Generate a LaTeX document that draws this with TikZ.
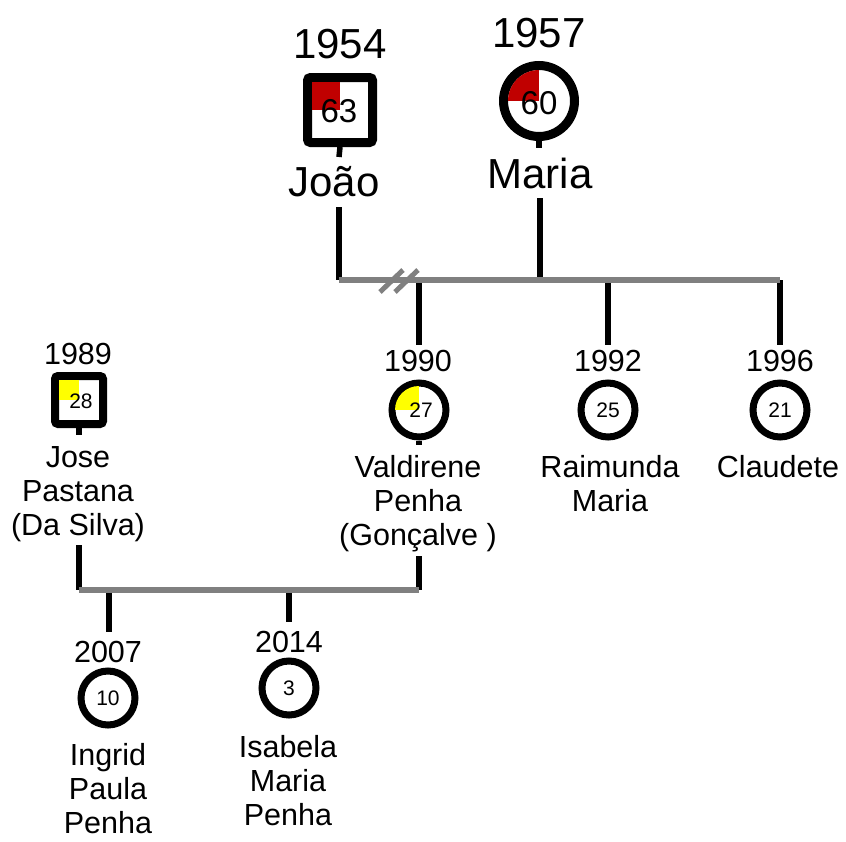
\documentclass[tikz,border=0pt]{standalone}
\usepackage{fontspec}
\setmainfont{Liberation Sans}
\definecolor{linegray}{RGB}{128,128,128}
\definecolor{agered}{RGB}{192,0,0}
\definecolor{ageyellow}{RGB}{255,255,0}
\tikzset{
  big/.style={font=\fontsize{42}{48}\selectfont, inner sep=0pt, anchor=base},
  small/.style={font=\fontsize{30.5}{34}\selectfont, inner sep=0pt, anchor=base},
  namebox/.style={font=\fontsize{30.5}{34}\selectfont, inner sep=0pt, anchor=north, align=center},
  bignum/.style={font=\fontsize{33}{36}\selectfont, inner sep=0pt},
  smallnum/.style={font=\fontsize{21}{24}\selectfont, inner sep=0pt},
  sqbig/.style={draw, line width=9pt, minimum size=65pt, inner sep=0pt, rounded corners=3pt, fill=white},
  sqsmall/.style={draw, line width=8pt, minimum size=48pt, inner sep=0pt, rounded corners=3pt, fill=white},
  circbig/.style={draw, circle, line width=9pt, minimum size=71pt, inner sep=0pt, fill=white},
  circsmall/.style={draw, circle, line width=7pt, minimum size=54pt, inner sep=0pt, fill=white},
  blk/.style={line width=5.5pt, black},
  gry/.style={line width=6pt, linegray},
  slash/.style={line width=5pt, linegray},
}
\begin{document}
\begin{tikzpicture}[x=1pt,y=-1pt]
\useasboundingbox (0,0) rectangle (846,841);

% ---------- parents ----------
\node[big] (y1954) at (340,58) {1954};
\node[sqbig] (joao) at (340,110) {};
\fill[agered] (joao.center) rectangle ++(-28,-28);
\node[bignum] (n63) at (339,111) {63};
\node[big] (nJoao) at (334,196) {João};

\node[big] (y1957) at (539,47) {1957};
\node[circbig] (maria) at (539,101) {};
\begin{scope}
  \clip (maria.center) circle[radius=31];
  \fill[agered] (maria.center) rectangle ++(-32,-32);
\end{scope}
\node[bignum] (n60) at (539,103) {60};
\node[big] (nMaria) at (540,188) {Maria};

% ---------- children of João & Maria ----------
\node[small] (y1990) at (418,371) {1990};
\node[circsmall] (vald) at (419,410) {};
\begin{scope}
  \clip (vald.center) circle[radius=24];
  \fill[ageyellow] (vald.center) rectangle ++(-25,-25);
\end{scope}
\node[smallnum] (n27) at (421,410) {27};
\node[namebox] (nVald) at (418,455) {Valdirene\\Penha\\(Gonçalve )};

\node[small] (y1992) at (608,371) {1992};
\node[circsmall] (raim) at (608,410) {};
\node[smallnum] (n25) at (608,410) {25};
\node[namebox] (nRaim) at (610,455) {Raimunda\\Maria};

\node[small] (y1996) at (780,371) {1996};
\node[circsmall] (clau) at (780,410) {};
\node[smallnum] (n21) at (780,410) {21};
\node[namebox] (nClau) at (778,455) {Claudete};

% ---------- Jose ----------
\node[small] (y1989) at (78,364) {1989};
\node[sqsmall] (jose) at (79,400) {};
\fill[ageyellow] (jose.center) rectangle ++(-20,-20);
\node[smallnum] (n28) at (81,401) {28};
\node[namebox] (nJose) at (78,446) {Jose\\Pastana\\(Da Silva)};

% ---------- grandchildren ----------
\node[small] (y2007) at (108,662) {2007};
\node[circsmall] (ingr) at (108,698) {};
\node[smallnum] (n10) at (108,698) {10};
\node[namebox] (nIngr) at (108,743) {Ingrid\\Paula\\Penha};

\node[small] (y2014) at (289,652) {2014};
\node[circsmall] (isab) at (289,688) {};
\node[smallnum] (n3) at (289,688) {3};
\node[namebox] (nIsab) at (288,735) {Isabela\\Maria\\Penha};

% ---------- coordinates ----------
\coordinate (jStub) at (339,157);
\coordinate (jTop) at (339,207);
\coordinate (jBot) at (339,280);
\coordinate (mStub) at (539,148);
\coordinate (mTop) at (540,198);
\coordinate (mBot) at (540,280);
\coordinate (cRight) at (780,280);
\coordinate (vUp) at (419,280);
\coordinate (vDown) at (419,345);
\coordinate (rUp) at (608,280);
\coordinate (rDown) at (608,345);
\coordinate (cDown) at (780,345);
\coordinate (vStub) at (419,445);
\coordinate (vTop) at (419,556);
\coordinate (vBot) at (419,590);
\coordinate (joStub) at (79,435);
\coordinate (joTop) at (79,545);
\coordinate (joBot) at (79,590);
\coordinate (iUp) at (109,590);
\coordinate (iDown) at (109,632);
\coordinate (sUp) at (289,590);
\coordinate (sDown) at (289,622);
\coordinate (s1a) at (380,292);
\coordinate (s1b) at (403,270);
\coordinate (s2a) at (395,292);
\coordinate (s2b) at (418,270);

% ---------- connectors ----------
\draw[blk] (joao.south) -- (jStub);
\draw[blk] (jTop) -- (jBot);
\draw[blk] (maria.south) -- (mStub);
\draw[blk] (mTop) -- (mBot);
\draw[blk] (vUp) -- (vDown);
\draw[blk] (rUp) -- (rDown);
\draw[blk] (cRight) -- (cDown);
\draw[gry] (jBot) -- (cRight);
\draw[slash] (s1a) -- (s1b);
\draw[slash] (s2a) -- (s2b);

\draw[blk] (vald.south) -- (vStub);
\draw[blk] (vTop) -- (vBot);
\draw[blk] (jose.south) -- (joStub);
\draw[blk] (joTop) -- (joBot);
\draw[blk] (iUp) -- (iDown);
\draw[blk] (sUp) -- (sDown);
\draw[gry] (joBot) -- (vBot);
\end{tikzpicture}
\end{document}
